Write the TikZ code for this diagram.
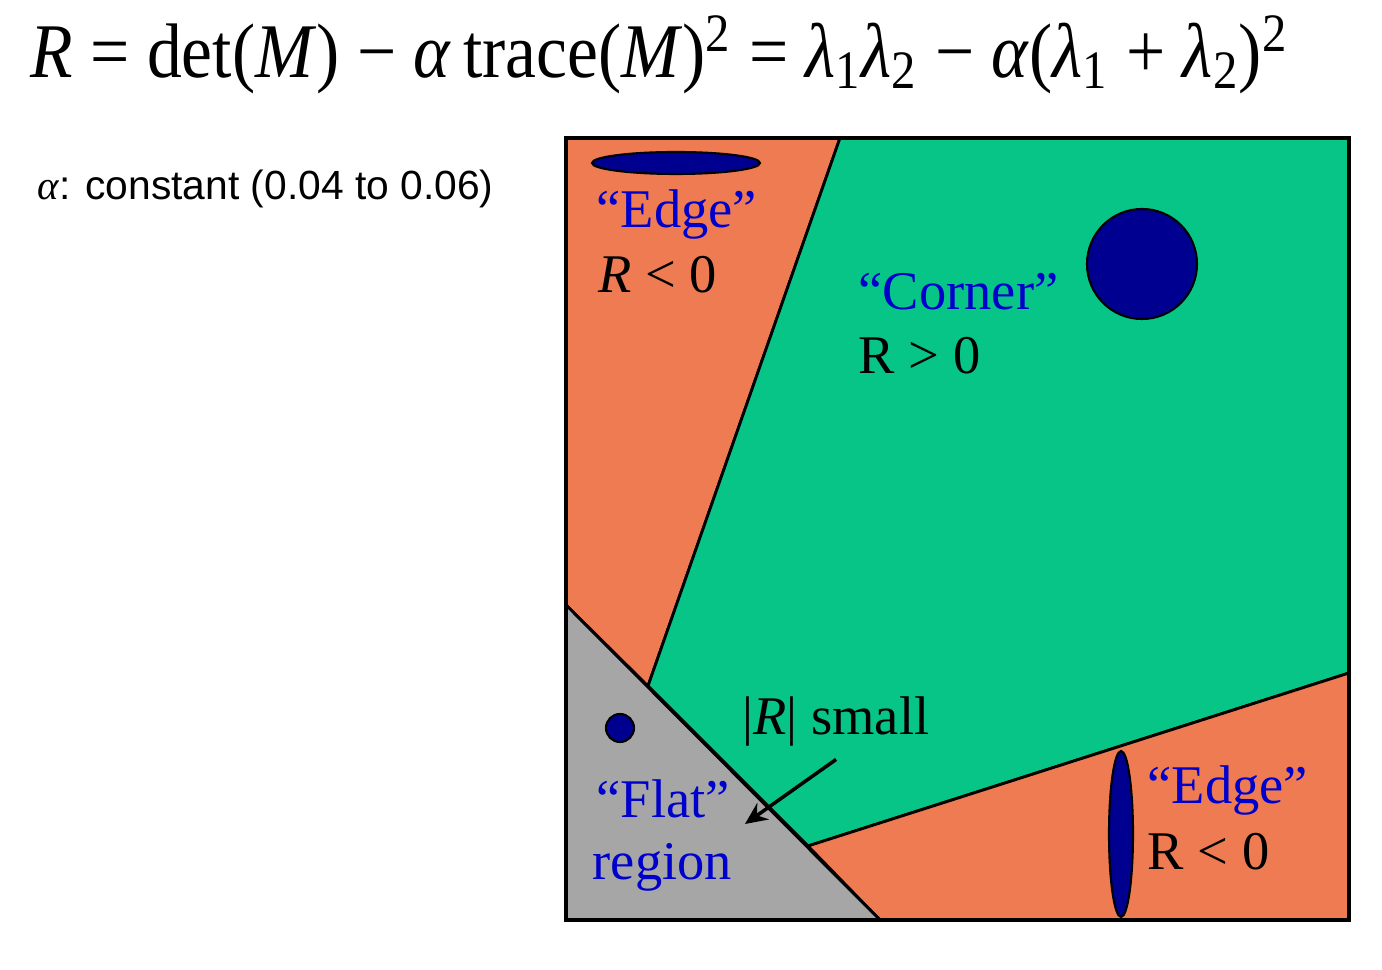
\documentclass[tikz,border=0pt]{standalone}
\usepackage{graphicx}
\usepackage{fontspec}
\setmainfont{Liberation Serif}
\newfontfamily\arialf{Liberation Sans}
\newfontfamily\timesf{Liberation Serif}
\usetikzlibrary{positioning,arrows.meta}
\definecolor{edgeorange}{HTML}{EF7B53}
\definecolor{cornergreen}{HTML}{07C587}
\definecolor{flatgray}{HTML}{A6A6A6}
\definecolor{blobnavy}{HTML}{000090}
\definecolor{labelblue}{HTML}{0000CC}
\tikzset{
  region/.style={draw=black, line width=0.8pt, line join=round},
  blob/.style={draw=black, fill=blobnavy, line width=0.6pt},
  lbl/.style={anchor=base west, inner sep=0pt, font=\fontsize{15.5}{18}\selectfont},
  namelbl/.style={lbl, text=labelblue},
  arrow/.style={-{Stealth[length=2.2mm,width=2mm]}, line width=1pt}
}

\begin{document}
\begin{tikzpicture}
  \useasboundingbox (0,0) rectangle (13.82,9.70);
  % corners of the square and the points where the regions meet
  \coordinate (tl) at (5.66,8.32);
  \coordinate (tr) at (13.49,8.32);
  \coordinate (bl) at (5.66,0.50);
  \coordinate (br) at (13.49,0.50);
  \coordinate (topcut) at (8.40,8.32);
  \coordinate (leftmeet) at (6.48,2.84);
  \coordinate (diagtop) at (5.66,3.65);
  \coordinate (rightcut) at (13.49,2.97);
  \coordinate (lowmeet) at (8.08,1.24);
  \coordinate (diagend) at (8.80,0.50);
  % regions
  \filldraw[region, fill=edgeorange] (tl) -- (topcut) -- (leftmeet) -- (diagtop) -- cycle;
  \filldraw[region, fill=cornergreen] (topcut) -- (tr) -- (rightcut) -- (lowmeet) -- (leftmeet) -- cycle;
  \filldraw[region, fill=edgeorange] (lowmeet) -- (rightcut) -- (br) -- (diagend) -- cycle;
  \filldraw[region, fill=flatgray] (diagtop) -- (diagend) -- (bl) -- cycle;
  \draw[line width=1.1pt] (tl) rectangle (br);
  % ellipses
  \draw[blob] (6.76,8.07) ellipse [x radius=0.84, y radius=0.11];
  \draw[blob] (11.42,7.06) circle [radius=0.55];
  \draw[blob] (6.20,2.42) circle [radius=0.14];
  \draw[blob] (11.21,1.36) ellipse [x radius=0.12, y radius=0.83];
  % formula and note
  \node[anchor=base west, inner sep=0pt, font=\timesf\fontsize{22}{26}\selectfont] (formula) at (0.30,8.92)
    {\scalebox{0.9}[1]{\textit{R} = det(\textit{M}) − \textit{α}\,trace(\textit{M})\textsuperscript{2} = \textit{λ}\textsubscript{1}\textit{λ}\textsubscript{2} − \textit{α}(\textit{λ}\textsubscript{1} + \textit{λ}\textsubscript{2})\textsuperscript{2}}};
  \node[anchor=base west, inner sep=0pt, font=\arialf\fontsize{11.6}{14}\selectfont] (alphanote) at (0.37,7.70)
    {{\timesf\itshape α}: constant (0.04 to 0.06)};
  % labels
  \node[namelbl] (edgetop) at (5.96,7.42) {“Edge”};
  \node[lbl] (edgetopr) at (5.98,6.77) {\textit{R} < 0};
  \node[namelbl] (corner) at (8.58,6.60) {“Corner”};
  \node[lbl] (cornerr) at (8.58,5.96) {R > 0};
  \node[lbl] (smallnote) at (7.42,2.35) {|\textit{R}| small};
  \node[namelbl] (flat) at (5.96,1.52) {“Flat”};
  \node[namelbl] (flatregion) at (5.92,0.90) {region};
  \node[namelbl] (edgelow) at (11.47,1.66) {“Edge”};
  \node[lbl] (edgelowr) at (11.47,1.00) {R < 0};
  \coordinate (flatspot) at (7.45,1.46);
  \draw[arrow] ([yshift=-1.2mm]smallnote.south) -- (flatspot);
\end{tikzpicture}
\end{document}
